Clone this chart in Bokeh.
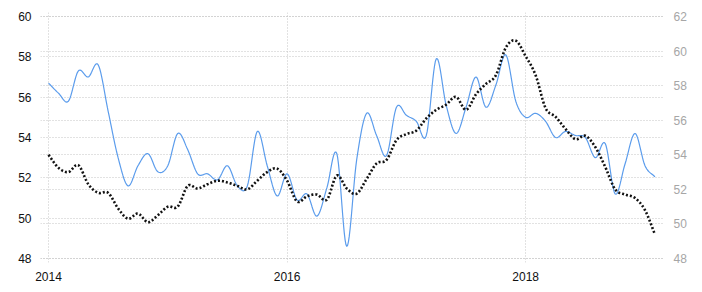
import numpy as np
from bokeh.plotting import figure
from bokeh.models import Range1d, LinearAxis, FixedTicker, Grid
from bokeh.embed import file_html
from bokeh.resources import INLINE

# Monthly series, Jan 2014 .. Feb 2019
start_year = 2014
blue_left = [56.7, 56.2, 55.8, 57.3, 57.0, 57.6, 55.3, 53.0, 51.6, 52.6,
             53.2, 52.3, 52.6, 54.2, 53.4, 52.2, 52.2, 51.9, 52.6, 51.6,
             51.6, 54.3, 52.6, 51.1, 52.2, 50.9, 51.2, 50.1, 51.5, 53.2,
             48.6, 52.9, 55.2, 54.1, 53.1, 55.5, 55.1, 54.8, 54.1, 57.9,
             55.6, 54.2, 55.5, 57.0, 55.5, 56.6, 58.1, 55.8, 55.0, 55.2,
             54.8, 54.0, 54.3, 54.1, 54.0, 53.0, 53.7, 51.2, 52.7, 54.2,
             52.6, 52.05]
black_right = [54.0, 53.25, 53.0, 53.4, 52.3, 51.8, 51.8, 50.9, 50.3, 50.6,
               50.1, 50.5, 51.0, 51.0, 52.2, 52.05, 52.3, 52.5, 52.4, 52.2,
               52.0, 52.5, 53.0, 53.2, 52.5, 51.3, 51.6, 51.7, 51.4, 52.8,
               52.05, 51.75, 52.6, 53.5, 53.7, 54.85, 55.2, 55.4, 56.1, 56.6,
               56.9, 57.35, 56.6, 57.5, 58.1, 58.6, 60.2, 60.6, 59.7, 58.6,
               56.7, 56.2, 55.5, 54.9, 55.1, 54.45, 53.3, 52.0, 51.7, 51.5,
               50.8, 49.4]
x_ticks = [2014, 2016, 2018]
left_ticks = [48, 50, 52, 54, 56, 58, 60]
right_ticks = [48, 50, 52, 54, 56, 58, 60, 62]

months = np.arange(len(blue_left))
xs = start_year + months / 12.0


def smooth(x, y, steps=12):
    x = np.asarray(x, float)
    y = np.asarray(y, float)
    px = np.concatenate([[2 * x[0] - x[1]], x, [2 * x[-1] - x[-2]]])
    py = np.concatenate([[2 * y[0] - y[1]], y, [2 * y[-1] - y[-2]]])
    ox, oy = [], []
    for i in range(1, len(px) - 2):
        t = np.linspace(0, 1, steps, endpoint=False)
        for arr, out in ((px, ox), (py, oy)):
            p0, p1, p2, p3 = arr[i - 1], arr[i], arr[i + 1], arr[i + 2]
            out.extend(0.5 * ((2 * p1) + (-p0 + p2) * t +
                              (2 * p0 - 5 * p1 + 4 * p2 - p3) * t ** 2 +
                              (-p0 + 3 * p1 - 3 * p2 + p3) * t ** 3))
    ox.append(x[-1])
    oy.append(y[-1])
    return np.array(ox), np.array(oy)


W, H = 702, 292
left_b, right_b, top_b, bot_b = 40, 38, 12, 30
frame_w = W - left_b - right_b
frame_h = H - top_b - bot_b
px_per_year = 119.3
x0 = 2014 - 8 / px_per_year
x1 = x0 + frame_w / px_per_year

lpu = (258 - 16) / 12.0
rpu = (258 - 16) / 14.0
pad = 4

p = figure(width=W, height=H, output_backend="svg", toolbar_location=None,
           x_range=Range1d(x0, x1),
           y_range=Range1d(48 - pad / lpu, 60 + pad / lpu),
           min_border_left=left_b, min_border_right=right_b,
           min_border_top=top_b, min_border_bottom=bot_b,
           y_axis_location=None, x_axis_location=None)
p.extra_y_ranges = {"right": Range1d(48 - pad / rpu, 62 + pad / rpu)}
p.outline_line_color = None
p.background_fill_color = "white"
p.border_fill_color = "white"

font = "Liberation Sans"

xaxis = LinearAxis(ticker=FixedTicker(ticks=x_ticks))
yleft = LinearAxis(ticker=FixedTicker(ticks=left_ticks))
yright = LinearAxis(ticker=FixedTicker(ticks=right_ticks), y_range_name="right")
for ax, col in ((xaxis, "#111111"), (yleft, "#111111"), (yright, "#a6a6a6")):
    ax.axis_line_color = None
    ax.major_tick_line_color = None
    ax.minor_tick_line_color = None
    ax.major_label_text_font = font
    ax.major_label_text_font_size = "12px"
    ax.major_label_text_color = col
    ax.major_label_standoff = 3
p.add_layout(xaxis, "below")
p.add_layout(yleft, "left")
p.add_layout(yright, "right")

p.grid.visible = False
grid_style = dict(grid_line_color="#c4c4c4", grid_line_dash="1 2", grid_line_width=1)
p.add_layout(Grid(dimension=0, ticker=FixedTicker(ticks=x_ticks), **grid_style))
p.add_layout(Grid(dimension=1, ticker=FixedTicker(ticks=left_ticks), **grid_style))
p.add_layout(Grid(dimension=1, ticker=FixedTicker(ticks=right_ticks),
                  y_range_name="right", **grid_style))

bx, by = smooth(xs, blue_left)
p.line(bx, by, line_color="#5b9cec", line_width=1.2)

kx, ky = smooth(xs, black_right)
p.line(kx, ky, line_color="#111111", line_width=2.6, line_dash="2 2",
       y_range_name="right")

open("out.html", "w").write(file_html(p, INLINE))
